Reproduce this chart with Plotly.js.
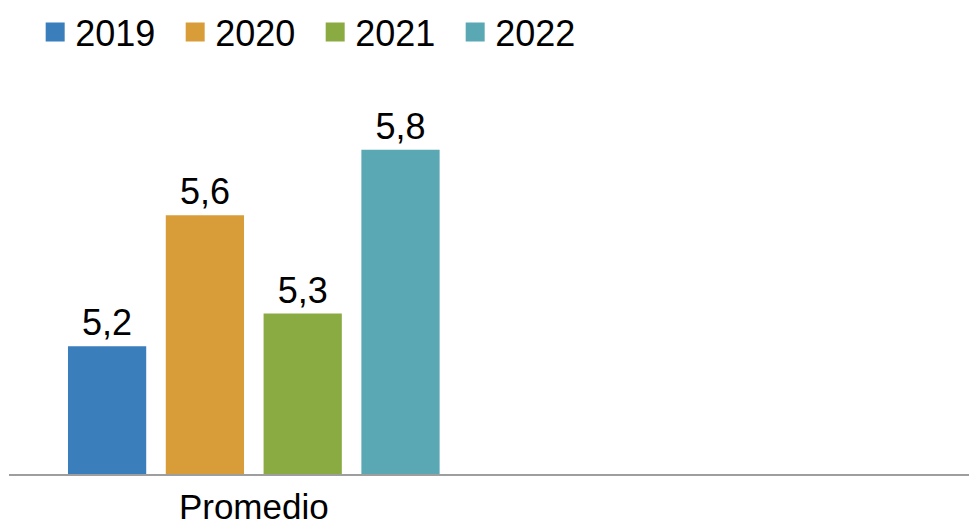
<!DOCTYPE html>
<html>
<head>
<meta charset="utf-8">
<script src="https://cdn.plot.ly/plotly-3.0.1.min.js"></script>
<style>html,body{margin:0;padding:0;background:#fff;}#chart{width:969px;height:531px;}</style>
</head>
<body>
<div id="chart"></div>
<script>
const categories = ['Promedio'];
const years = ['2019', '2020', '2021', '2022'];
const v2019 = [5.2];
const v2020 = [5.6];
const v2021 = [5.3];
const v2022 = [5.8];
const seriesValues = [v2019, v2020, v2021, v2022];
const colors = ['#3a7ebb', '#d89d39', '#8aab42', '#59a8b4'];

const FONT = '"Liberation Sans", Arial, sans-serif';
const traces = [];
years.forEach((y, i) => {
  traces.push({
    type: 'bar', name: y, x: categories, y: seriesValues[i],
    marker: {color: colors[i]},
    text: seriesValues[i].map(v => v.toFixed(1).replace('.', ',')),
    textposition: 'outside', cliponaxis: false,
    textfont: {family: FONT, size: 36, color: '#000'},
    showlegend: false, hoverinfo: 'skip'
  });
});
years.forEach((y, i) => {
  traces.push({
    type: 'scatter', mode: 'markers', name: y, x: [null], y: [null],
    marker: {symbol: 'square', size: 16, color: colors[i], line: {color: colors[i], width: 3}},
    showlegend: true
  });
});

const layout = {
  width: 969, height: 531,
  margin: {l: 9, r: 0, t: 81, b: 57},
  paper_bgcolor: '#fff', plot_bgcolor: '#fff',
  font: {family: FONT, size: 36, color: '#000'},
  separators: ',.',
  barmode: 'group', bargap: 0.185, bargroupgap: 0.2,
  showlegend: true,
  legend: {orientation: 'h', xref: 'container', yref: 'container', x: 0.0363, y: 0.996,
           xanchor: 'left', yanchor: 'top', font: {family: FONT, size: 36, color: '#000'},
           entrywidth: 95, traceorder: 'normal', bgcolor: 'rgba(0,0,0,0)'},
  xaxis: {type: 'category', range: [-0.51, 1.49], showline: true, linecolor: '#9e9e9e', linewidth: 1.5,
          ticks: '', ticklabelstandoff: 1, showgrid: false, zeroline: false,
          tickfont: {family: FONT, size: 35, color: '#000'}},
  yaxis: {range: [4.81, 6.01], visible: false, showgrid: false, zeroline: false}
};
Plotly.newPlot('chart', traces, layout, {staticPlot: true, displayModeBar: false});
</script>
</body>
</html>
